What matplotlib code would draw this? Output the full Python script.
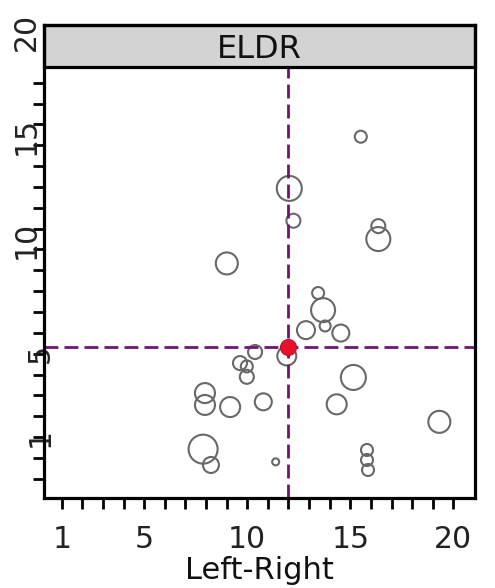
import matplotlib
matplotlib.use("Agg")
import matplotlib.pyplot as plt
import matplotlib.transforms as mtransforms
from matplotlib.patches import Rectangle

# ---- data ----
panel_title = "ELDR"
x_label = "Left-Right"
pt_x = [15.51, 12.04, 12.24, 16.36, 16.36, 9.01, 13.44, 13.68, 12.85, 14.54,
        13.78, 11.92, 10.38, 9.65, 9.98, 9.98, 7.95, 7.95, 9.17, 10.78,
        15.15, 14.34, 19.32, 7.86, 8.24, 11.38, 15.81, 15.81, 15.86]
pt_y = [15.41, 12.93, 11.38, 11.12, 10.50, 9.33, 7.91, 7.09, 6.13, 5.99,
        6.33, 4.89, 5.08, 4.55, 4.39, 3.89, 3.11, 2.54, 2.44, 2.69,
        3.86, 2.57, 1.73, 0.42, -0.34, -0.19, 0.38, -0.10, -0.58]
pt_w = [12, 25, 14, 14, 24, 22, 12, 24, 18, 17,
        11, 19, 14, 14, 12, 14, 20, 20, 20, 17,
        25, 20, 22, 29, 16, 7, 12, 12, 12]
center_x = 12.0
center_y = 5.3
x_ticks = list(range(1, 21))
x_ticklabels = ["1", "5", "10", "15", "20"]
y_ticks = list(range(-1, 19))
y_ticklabels = ["1", "5", "10", "15", "20"]

# ---- figure ----
fig = plt.figure(figsize=(4.95, 5.88), dpi=100)
ax = fig.add_axes([43.5 / 495, 1 - 497.5 / 588, (475 - 43.5) / 495, (497.5 - 25) / 588])
ax.set_xlim(0.117, 21.05)
ax.set_ylim(-1.90, 20.77)

ax.scatter(pt_x, pt_y, s=[(w * 0.72) ** 2 for w in pt_w], facecolors="none",
           edgecolors="#686868", linewidths=1.5, zorder=2)
ax.axvline(center_x, color="#701470", lw=2.0, ls=(0, (5, 2.2)), zorder=3)
ax.axhline(center_y, color="#701470", lw=2.0, ls=(0, (5, 2.2)), zorder=3)
ax.scatter([center_x], [center_y], s=(16 * 0.72) ** 2, color="#e8102c",
           edgecolors="#c0102a", linewidths=0.8, zorder=4)

for sp in ax.spines.values():
    sp.set_linewidth(2.3)
    sp.set_zorder(7)

ax.set_xticks(x_ticks)
ax.set_xticklabels([str(t) if str(t) in x_ticklabels else "" for t in x_ticks])
ax.set_yticks(y_ticks)
ax.set_yticklabels([])
ax.tick_params(axis="both", direction="out", length=8, width=2, color="black")
ax.tick_params(axis="x", labelsize=21.5, pad=12, labelcolor="#222222")

# rotated y labels
for lab in y_ticklabels:
    v = float(lab)
    dx = -3.5 if len(lab) == 1 else -17
    tr = mtransforms.blended_transform_factory(ax.transAxes, ax.transData) + \
        mtransforms.ScaledTranslation(dx / 100, -9.5 / 100, fig.dpi_scale_trans)
    ax.text(0, v, lab, transform=tr, rotation=90, ha="center", va="bottom",
            fontsize=21.5, color="#222222", clip_on=False)

ax.set_xlabel(x_label, fontsize=22, labelpad=1, color="#111111")

# strip
frac = (497.5 - 67) / 472.5
ax.add_patch(Rectangle((0, frac), 1, 1 - frac, transform=ax.transAxes,
                       facecolor="#d3d3d3", edgecolor="black", lw=2.3,
                       zorder=5, clip_on=False))
tr_strip = ax.transAxes + mtransforms.ScaledTranslation(0, -3 / 100, fig.dpi_scale_trans)
ax.text(0.5, (frac + 1) / 2, panel_title, transform=tr_strip, ha="center",
        va="center", fontsize=23, color="#111111", zorder=6)

fig.savefig("out.png", dpi=100)
